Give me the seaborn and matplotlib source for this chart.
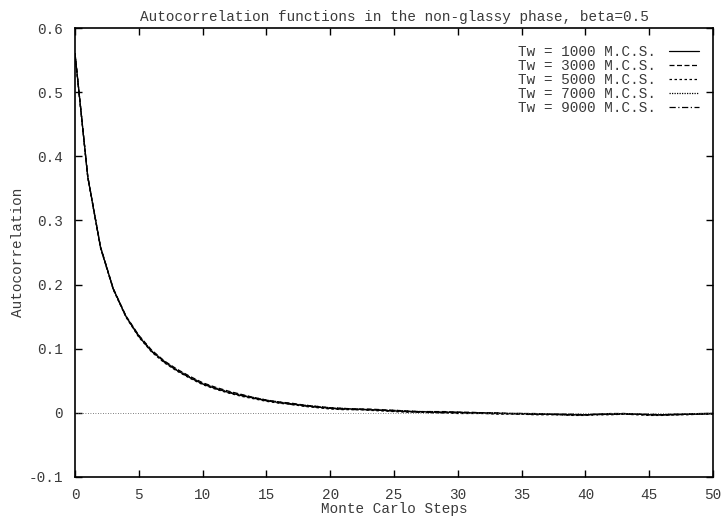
import matplotlib
matplotlib.use("Agg")
import matplotlib.pyplot as plt
import seaborn as sns
import pandas as pd
import numpy as np

steps = list(range(51))

tw1000 = [0.560, 0.368, 0.258, 0.193, 0.150, 0.119, 0.096, 0.080, 0.066, 0.055,
          0.045, 0.038, 0.032, 0.027, 0.023, 0.019, 0.016, 0.014, 0.011, 0.009,
          0.007, 0.006, 0.006, 0.005, 0.004, 0.003, 0.002, 0.002, 0.001, 0.001,
          0.001, 0.000, 0.000, -0.001, -0.001, -0.001, -0.002, -0.002, -0.002, -0.003,
          -0.003, -0.002, -0.002, -0.001, -0.002, -0.003, -0.003, -0.003, -0.002, -0.002,
          -0.001]
tw3000 = [0.561, 0.369, 0.259, 0.194, 0.151, 0.121, 0.098, 0.081, 0.068, 0.057,
          0.047, 0.040, 0.034, 0.029, 0.024, 0.020, 0.017, 0.015, 0.012, 0.010,
          0.008, 0.007, 0.006, 0.006, 0.005, 0.004, 0.003, 0.002, 0.002, 0.002,
          0.001, 0.001, 0.000, 0.000, -0.001, -0.001, -0.001, -0.002, -0.002, -0.002,
          -0.003, -0.002, -0.001, -0.001, -0.002, -0.002, -0.003, -0.002, -0.002, -0.001,
          -0.001]
tw5000 = [0.559, 0.367, 0.257, 0.192, 0.149, 0.118, 0.095, 0.078, 0.065, 0.054,
          0.044, 0.037, 0.031, 0.026, 0.022, 0.018, 0.015, 0.013, 0.010, 0.008,
          0.006, 0.005, 0.005, 0.004, 0.003, 0.002, 0.001, 0.001, 0.000, 0.000,
          -0.001, -0.001, -0.001, -0.002, -0.002, -0.002, -0.003, -0.003, -0.003, -0.004,
          -0.004, -0.003, -0.003, -0.002, -0.003, -0.004, -0.004, -0.003, -0.003, -0.002,
          -0.002]
tw7000 = [0.560, 0.368, 0.258, 0.193, 0.150, 0.120, 0.097, 0.080, 0.067, 0.056,
          0.046, 0.039, 0.033, 0.028, 0.024, 0.020, 0.017, 0.014, 0.012, 0.010,
          0.008, 0.007, 0.006, 0.005, 0.004, 0.004, 0.003, 0.002, 0.002, 0.001,
          0.001, 0.000, 0.000, 0.000, -0.001, -0.001, -0.002, -0.002, -0.003, -0.003,
          -0.003, -0.003, -0.002, -0.002, -0.002, -0.003, -0.003, -0.002, -0.002, -0.002,
          -0.001]
tw9000 = [0.560, 0.368, 0.258, 0.193, 0.150, 0.120, 0.096, 0.079, 0.066, 0.055,
          0.046, 0.038, 0.032, 0.028, 0.023, 0.019, 0.016, 0.013, 0.011, 0.009,
          0.007, 0.006, 0.005, 0.005, 0.004, 0.003, 0.002, 0.001, 0.001, 0.000,
          0.000, 0.000, -0.001, -0.001, -0.001, -0.002, -0.002, -0.002, -0.003, -0.003,
          -0.003, -0.002, -0.002, -0.002, -0.002, -0.003, -0.003, -0.003, -0.002, -0.001,
          -0.001]

labels = ["Tw = 1000 M.C.S.", "Tw = 3000 M.C.S.", "Tw = 5000 M.C.S.",
          "Tw = 7000 M.C.S.", "Tw = 9000 M.C.S."]
series = [tw1000, tw3000, tw5000, tw7000, tw9000]

xticks = [0, 5, 10, 15, 20, 25, 30, 35, 40, 45, 50]
yticks = [-0.1, 0, 0.1, 0.2, 0.3, 0.4, 0.5, 0.6]
yticklabels = ["-0.1", "0", "0.1", "0.2", "0.3", "0.4", "0.5", "0.6"]

frames = []
for lab, vals in zip(labels, series):
    frames.append(pd.DataFrame({"step": steps, "value": vals, "series": lab}))
df = pd.concat(frames, ignore_index=True)

sns.set_style("white")
plt.rcParams["font.family"] = ["Liberation Mono", "DejaVu Sans Mono"]
fs = 10.4
txt_color = "#3a3a3a"

fig = plt.figure(figsize=(7.21, 5.18), dpi=100)
ax = fig.add_axes([75/721, 1-477/518, (713-75)/721, (477-28)/518])

styles = ["-", (0, (4, 2)), (0, (2, 2)), (0, (1, 1)), (0, (5, 2, 1, 2))]
for lab, ls in zip(labels, styles):
    sub = df[df["series"] == lab]
    sns.lineplot(data=sub, x="step", y="value", ax=ax, color="black",
                 linewidth=0.9, linestyle=ls, label=lab)

ax.axhline(0, color="#555555", linewidth=0.6, linestyle=(0, (1, 2)))

ax.set_xlim(0, 50)
ax.set_ylim(-0.1, 0.6)
ax.set_xticks(xticks)
ax.set_xticklabels([str(t) for t in xticks], fontsize=fs, color=txt_color)
ax.set_yticks(yticks)
ax.set_yticklabels(yticklabels, fontsize=fs, color=txt_color)
ax.tick_params(direction="in", length=5, width=1, top=True, right=True,
               bottom=True, left=True, pad=8.5, colors="black", labelcolor=txt_color)
ax.tick_params(axis="x", pad=7.6)
for s in ax.spines.values():
    s.set_linewidth(1.2)
    s.set_color("black")

ax.set_xlabel("Monte Carlo Steps", fontsize=fs, color=txt_color, va="center")
ax.xaxis.set_label_coords(0.5, (477-509.5)/449)
ax.set_ylabel("Autocorrelation", fontsize=fs, color=txt_color, va="center")
ax.yaxis.set_label_coords((18-75)/638, 0.5)
ax.set_title("Autocorrelation functions in the non-glassy phase, beta=0.5",
             fontsize=fs, color=txt_color, pad=5)

leg = ax.legend(loc="upper right", bbox_to_anchor=((705-75)/638, (477-39)/449),
                frameon=False, markerfirst=False,
                fontsize=fs, handlelength=2.1, labelspacing=0.0,
                borderaxespad=0.0, handletextpad=0.9)
for t in leg.get_texts():
    t.set_color(txt_color)

fig.savefig("out.png", dpi=100)
